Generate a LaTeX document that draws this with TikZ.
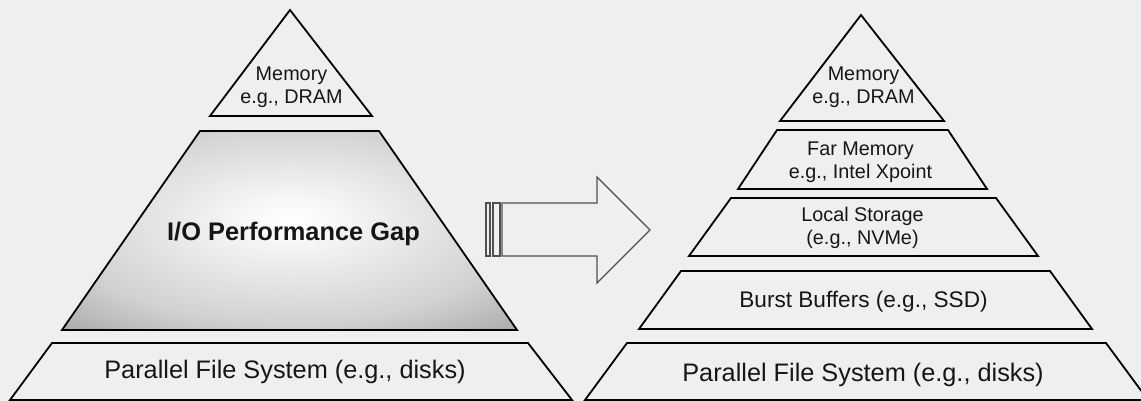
\documentclass[tikz,border=0pt]{standalone}
\usepackage{fontspec}
\setmainfont{Liberation Sans}
\definecolor{bgc}{HTML}{EFEFEF}
\definecolor{txt}{HTML}{161616}
\definecolor{arrowline}{HTML}{505050}
% soft radial fill for the gap band, brightest a little above the middle
% (25bp reaches the edge of the filled shape, about 35bp its corners)
\pgfdeclareradialshading{gapshade}{\pgfpoint{0bp}{3bp}}{%
  color(0bp)=(white);
  color(5bp)=(black!3);
  color(25bp)=(black!18);
  color(36bp)=(black!33);
  color(50bp)=(black!33)}
\begin{document}
\begin{tikzpicture}[x=1pt,y=-1pt,
  tier/.style={draw=black,line width=1.8pt,line join=miter,fill=bgc},
  gapfill/.style={draw=black,line width=1.8pt,line join=miter,shading=gapshade},
  outline/.style={draw=arrowline,line width=1.2pt,fill=bgc},
  lbl/.style={text=txt,inner sep=0pt,align=center},
  small/.style={lbl,font=\fontsize{19.8}{23}\selectfont},
  mid/.style={lbl,font=\fontsize{22.6}{26}\selectfont},
  big/.style={lbl,font=\fontsize{25.3}{29}\selectfont}]
% canvas
\fill[bgc] (0,0) rectangle (1141,401);
\useasboundingbox (0,0) rectangle (1141,401);

% ---- current hierarchy ----
\draw[tier] (210,116) -- (290,10) -- (372,116) -- cycle;
\shadedraw[gapfill] (62,330) -- (200,131) -- (379,131) -- (517,330) -- cycle;
\draw[tier] (10,400) -- (52,343) -- (528,343) -- (572,400) -- cycle;

\node[small] (memL) at (291.5,87.5) {Memory\\e.g., DRAM};
\node[lbl,anchor=base,font=\fontsize{25.4}{30}\selectfont\bfseries] (gap) at (293.5,240.7) {I/O Performance Gap};
\node[big,anchor=base] (pfsL) at (285,378.3) {Parallel File System (e.g., disks)};

% ---- transition arrow ----
\draw[outline] (486,203) rectangle (490,256);
\draw[outline] (493,203) rectangle (500,256);
\draw[outline] (502,203) -- (597,203) -- (597,177) -- (650,230)
  -- (597,283) -- (597,256) -- (502,256) -- cycle;

% ---- deeper hierarchy ----
\draw[tier] (780,121) -- (861,15) -- (944,121) -- cycle;
\draw[tier] (738,189) -- (777,130) -- (948,130) -- (987,189) -- cycle;
\draw[tier] (689,256) -- (731,198) -- (996,198) -- (1038,256) -- cycle;
\draw[tier] (639,329) -- (681,271) -- (1050,271) -- (1092,329) -- cycle;
\draw[tier] (585,400) -- (627,343) -- (1106,343) -- (1148,400) -- cycle;

\node[small] (memR) at (863.5,87.6) {Memory\\e.g., DRAM};
\node[small] (far) at (860.5,162) {Far Memory\\e.g., Intel Xpoint};
\node[small] (local) at (862.5,228.3) {Local Storage\\(e.g., NVMe)};
\node[mid,anchor=base] (burst) at (863.5,307.7) {Burst Buffers (e.g., SSD)};
\node[big,anchor=base] (pfsR) at (863,381.7) {Parallel File System (e.g., disks)};
\end{tikzpicture}
\end{document}
